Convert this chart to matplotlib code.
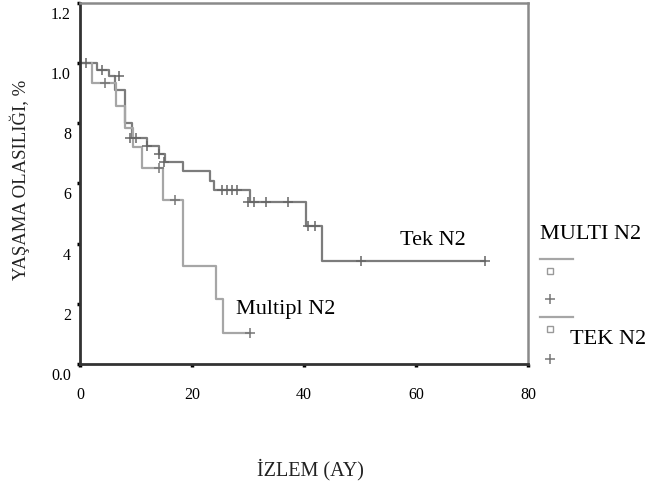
import matplotlib
matplotlib.use("Agg")
from matplotlib import pyplot as plt
from matplotlib.lines import Line2D
from matplotlib.transforms import ScaledTranslation

plt.rcParams['font.family'] = ['Liberation Serif', 'DejaVu Serif']

# Tek N2 (Kaplan-Meier step)
tek_t = [0, 3.0, 5.2, 6.3, 8.0, 9.3, 12.0, 14.1, 15.2, 18.4, 23.3, 24.0, 30.3, 40.3, 43.3, 72.3]
tek_s = [1.0, 0.977, 0.957, 0.91, 0.80, 0.75, 0.724, 0.698, 0.671, 0.641, 0.608, 0.578, 0.538, 0.458, 0.342, 0.342]
tek_cens_t = [1.0, 4.0, 7.0, 9.0, 10.0, 12.0, 14.1, 15.0, 25.4, 26.3, 27.2, 28.1, 30.0, 31.0, 33.3, 37.2, 40.8, 42.0, 50.1, 72.3]
tek_cens_s = [1.0, 0.977, 0.957, 0.75, 0.75, 0.724, 0.698, 0.671, 0.578, 0.578, 0.578, 0.578, 0.538, 0.538, 0.538, 0.538, 0.458, 0.458, 0.342, 0.342]

# Multipl N2
mul_t = [0, 2.2, 6.4, 8.0, 9.5, 11.0, 14.9, 18.4, 24.2, 25.6, 30.3]
mul_s = [1.0, 0.935, 0.856, 0.784, 0.72, 0.651, 0.545, 0.326, 0.216, 0.103, 0.103]
mul_cens_t = [4.5, 14.1, 17.0, 30.3]
mul_cens_s = [0.935, 0.651, 0.545, 0.103]

yticks = [0, 0.2, 0.4, 0.6, 0.8, 1.0, 1.2]
ylabels = ['0.0', '2', '4', '6', '8', '1.0', '1.2']
xticks = [0, 20, 40, 60, 80]

tek_col = '#7c7c7c'
mul_col = '#a6a6a6'

fig = plt.figure(figsize=(6.7, 4.89), dpi=100)
ax = fig.add_axes([80/670, 1-365/489, 448/670, 361/489])

ax.step(tek_t, tek_s, where='post', color=tek_col, lw=1.6)
ax.step(mul_t, mul_s, where='post', color=mul_col, lw=1.6)
ax.plot(tek_cens_t, tek_cens_s, ls='none', marker='+', ms=7, mew=1.1, color='#666666')
ax.plot(mul_cens_t, mul_cens_s, ls='none', marker='+', ms=7, mew=1.1, color='#777777')

ax.set_xlim(0, 80)
ax.set_ylim(0, 1.2)
ax.set_xticks(xticks)
ax.set_xticklabels([str(v) for v in xticks])
ax.set_yticks(yticks)
ax.set_yticklabels(ylabels)
ax.tick_params(direction='out', length=2.5, width=2.5, color='black', labelsize=11.5, pad=4)
ax.tick_params(axis='x', pad=13)

off = ScaledTranslation(0, -0.09, fig.dpi_scale_trans)
for lab in ax.get_yticklabels():
    lab.set_transform(lab.get_transform() + off)

for s in ['left', 'bottom']:
    ax.spines[s].set_color('#333333')
    ax.spines[s].set_linewidth(2)
for s in ['top', 'right']:
    ax.spines[s].set_color('#8a8a8a')
    ax.spines[s].set_linewidth(1.8)

ax.text(63, 0.415, 'Tek N2', fontsize=16, ha='center', va='center')
ax.text(36.8, 0.183, 'Multipl N2', fontsize=16, ha='center', va='center')

fig.text(20/670, 1-180/489, 'YAŞAMA OLASILIĞI, %', rotation=90, fontsize=13.5,
         ha='center', va='center', color='#222222')
fig.text(310/670, 1-470/489, 'İZLEM (AY)', fontsize=14.5, ha='center', va='center',
         color='#222222')

# legend outside the axes
fig.text(540/670, 1-235/489, 'MULTI N2', fontsize=16, ha='left', va='center')
fig.add_artist(Line2D([540/670, 573/670], [1-260/489, 1-260/489], color=mul_col, lw=1.6))
fig.add_artist(Line2D([550/670], [1-272/489], marker='s', ms=4, mfc='white', mec='#999999', ls='none'))
fig.add_artist(Line2D([550/670], [1-300/489], marker='+', ms=7, mew=1.1, color='#777777', ls='none'))
fig.add_artist(Line2D([540/670, 573/670], [1-318/489, 1-318/489], color=mul_col, lw=1.6))
fig.add_artist(Line2D([550/670], [1-330/489], marker='s', ms=4, mfc='white', mec='#999999', ls='none'))
fig.text(570/670, 1-340/489, 'TEK N2', fontsize=16, ha='left', va='center')
fig.add_artist(Line2D([550/670], [1-360/489], marker='+', ms=7, mew=1.1, color='#777777', ls='none'))

fig.savefig('out.png', dpi=100)
